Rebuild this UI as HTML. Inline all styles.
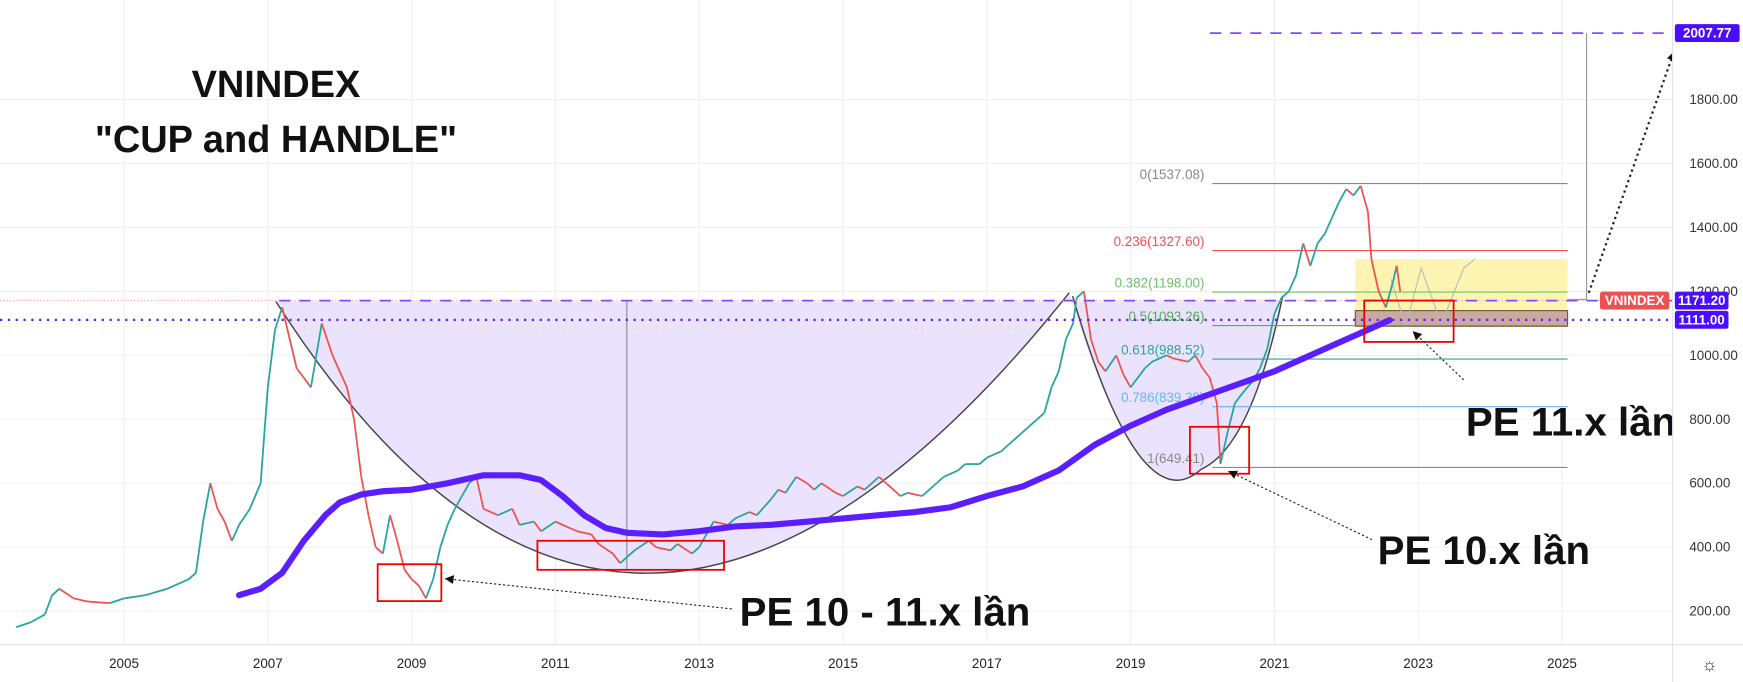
<!DOCTYPE html>
<html><head><meta charset="utf-8"><style>
html,body{margin:0;padding:0;background:#fff;overflow:hidden}
svg{display:block}
text{font-family:"Liberation Sans","DejaVu Sans",sans-serif}
</style></head><body>
<svg id="chart" width="1743" height="682" viewBox="0 0 1560 610.4" preserveAspectRatio="none" xmlns="http://www.w3.org/2000/svg">
<g id="grid"></g>
<g id="cupfill"></g>
<g id="fib"></g>
<g id="candles"></g>
<g id="ma"></g>
<g id="annot"></g>
<g id="axes"></g>
</svg>
<script>
const priceDates=[2003.5,2003.7,2003.9,2004.0,2004.1,2004.3,2004.5,2004.8,2005.0,2005.3,2005.6,2005.9,2006.0,2006.1,2006.2,2006.3,2006.4,2006.5,2006.6,2006.75,2006.9,2007.0,2007.1,2007.2,2007.4,2007.6,2007.75,2007.9,2008.0,2008.1,2008.2,2008.3,2008.4,2008.5,2008.6,2008.7,2008.8,2008.9,2009.0,2009.1,2009.2,2009.3,2009.4,2009.5,2009.6,2009.7,2009.8,2009.9,2010.0,2010.2,2010.4,2010.5,2010.7,2010.8,2011.0,2011.2,2011.3,2011.5,2011.6,2011.8,2011.9,2012.1,2012.3,2012.4,2012.6,2012.7,2012.9,2013.0,2013.2,2013.4,2013.5,2013.7,2013.8,2014.0,2014.1,2014.2,2014.35,2014.5,2014.6,2014.7,2014.9,2015.0,2015.2,2015.3,2015.5,2015.6,2015.8,2015.9,2016.1,2016.3,2016.4,2016.6,2016.7,2016.9,2017.0,2017.2,2017.3,2017.5,2017.6,2017.8,2017.9,2018.0,2018.1,2018.2,2018.25,2018.35,2018.45,2018.55,2018.65,2018.8,2018.9,2019.0,2019.2,2019.3,2019.5,2019.6,2019.8,2019.9,2020.0,2020.1,2020.2,2020.25,2020.35,2020.45,2020.55,2020.7,2020.8,2020.9,2021.0,2021.1,2021.2,2021.3,2021.4,2021.5,2021.6,2021.7,2021.8,2021.9,2022.0,2022.1,2022.2,2022.3,2022.35,2022.45,2022.55,2022.65,2022.7,2022.75];
const priceValues=[150,165,190,250,270,240,230,225,240,250,270,300,320,480,600,520,480,420,470,520,600,900,1080,1150,960,900,1100,1000,950,900,800,620,500,400,380,500,420,330,300,280,240,300,400,470,520,560,600,620,520,500,520,470,480,450,480,460,450,440,410,380,350,390,420,400,390,410,380,400,480,470,490,510,500,550,580,570,620,600,580,600,570,560,590,580,620,600,560,570,560,600,620,640,660,660,680,700,720,760,780,820,900,950,1050,1100,1180,1200,1050,980,950,1000,940,900,960,980,1000,990,980,1000,960,930,850,660,760,850,880,920,960,1020,1130,1180,1200,1250,1350,1280,1350,1380,1430,1480,1520,1500,1530,1450,1300,1200,1150,1230,1280,1200];
const maDates=[2006.6,2006.9,2007.2,2007.5,2007.8,2008.0,2008.3,2008.6,2009.0,2009.5,2010.0,2010.5,2010.8,2011.1,2011.4,2011.7,2012.0,2012.5,2013.0,2013.5,2014.0,2014.5,2015.0,2015.5,2016.0,2016.5,2017.0,2017.5,2018.0,2018.5,2019.0,2019.5,2020.0,2020.5,2021.0,2021.5,2022.0,2022.3,2022.6];
const maValues=[250,270,320,420,500,540,565,575,580,600,625,625,610,560,500,460,445,440,450,465,470,480,490,500,510,525,560,590,640,720,780,830,870,910,950,1000,1050,1080,1110];
const priceTicks=[200,400,600,800,1000,1200,1400,1600,1800];
const yearTicks=[2005,2007,2009,2011,2013,2015,2017,2019,2021,2023,2025];
const fibRatios=["0","0.236","0.382","0.5","0.618","0.786","1"];
const fibValues=[1537.08,1327.60,1198.00,1093.26,988.52,839.39,649.41];
const fibColors=["#888","#f05050","#6cc06c","#4caf50","#26a69a","#64b5f6","#888"];

const NS="http://www.w3.org/2000/svg";
function X(yr){return 111+(yr-2005)*64.35;}
function Y(v){return 547-(v-200)*0.2862;}
function mk(tag,parent,attrs){const e=document.createElementNS(NS,tag);for(const k in attrs)e.setAttribute(k,attrs[k]);parent.appendChild(e);return e;}
const G=id=>document.getElementById(id);

priceTicks.forEach(v=>{const l=mk('line',G('grid'),{x1:0,x2:1497,y1:Y(v),y2:Y(v),stroke:'#f0f0f3','stroke-width':1});

});
yearTicks.forEach(yr=>{const l=mk('line',G('grid'),{x1:X(yr),x2:X(yr),y1:0,y2:577,stroke:'#f0f0f3','stroke-width':1});

});

const cf=mk('path',G('cupfill'),{d:'M240,270 L247,270 Q560,760 957,262 Q1020,470 1075,420 Q1120,400 1148,265 L1148,270 Z',fill:'#ebe3fd',stroke:'none'});


mk('path',G('cupfill'),{d:'M247,270 Q560,760 957,262',fill:'none',stroke:'#444','stroke-width':1.3});
mk('path',G('cupfill'),{d:'M960,265 Q1020,470 1075,420 Q1120,400 1148,265',fill:'none',stroke:'#444','stroke-width':1.3});
mk('line',G('cupfill'),{x1:561,x2:561,y1:270,y2:510,stroke:'#888','stroke-width':1});

mk('rect',G('fib'),{x:1213,y:232,width:190,height:60,fill:'#fdf3a8',opacity:0.9});
mk('rect',G('fib'),{x:1213,y:278,width:190,height:14,fill:'#c9a9a0',stroke:'#6b5a2a','stroke-width':1});
mk('polyline',G('fib'),{points:'1245,250 1258,292 1272,240 1290,290 1310,240 1320,232',fill:'none',stroke:'#bbb','stroke-width':1});

fibValues.forEach((v,i)=>{
 const l=mk('line',G('fib'),{x1:1085,x2:1403,y1:Y(v),y2:Y(v),stroke:fibColors[i],'stroke-width':1});
 
 
 const t=mk('text',G('fib'),{x:1078,y:Y(v)-4,'text-anchor':'end','font-size':12,fill:fibColors[i]});
 t.textContent=fibRatios[i]+'('+v.toFixed(2)+')';
 
 
});

const n=Math.min(priceDates.length,priceValues.length);
for(let i=1;i<n;i++){
 const up=priceValues[i]>=priceValues[i-1];
 const c=up?'#26a69a':'#ef5350';
 const s=mk('line',G('candles'),{x1:X(priceDates[i-1]),y1:Y(priceValues[i-1]),x2:X(priceDates[i]),y2:Y(priceValues[i]),stroke:c,'stroke-width':1.6});
 
 
}

const mp=mk('polyline',G('ma'),{points:maValues.map((v,i)=>X(maDates[i])+','+Y(v)).join(' '),fill:'none',stroke:'#5b1fff','stroke-width':5.5,'stroke-linejoin':'round','stroke-linecap':'round'});



const A=G('annot');
mk('line',A,{x1:0,x2:1497,y1:Y(1171.2),y2:Y(1171.2),stroke:'#f4a0a0','stroke-width':1,'stroke-dasharray':'1 2'});
mk('line',A,{x1:250,x2:1497,y1:Y(1171.2),y2:Y(1171.2),stroke:'#7b4dff','stroke-width':1.6,'stroke-dasharray':'10 8'});
mk('line',A,{x1:0,x2:1497,y1:Y(1111),y2:Y(1111),stroke:'#5b1fff','stroke-width':2,'stroke-dasharray':'2 5'});
mk('line',A,{x1:1083,x2:1497,y1:Y(2007.77),y2:Y(2007.77),stroke:'#7b4dff','stroke-width':1.6,'stroke-dasharray':'10 8'});
mk('polyline',A,{points:'1420,'+Y(2007.77)+' 1420,268 1403,268',fill:'none',stroke:'#999','stroke-width':1});

[[338,505,57,33],[481,484,167,26],[1065,382,53,42],[1221,269,80,37]].forEach(b=>{
 const r=mk('rect',A,{x:b[0],y:b[1],width:b[2],height:b[3],fill:'none',stroke:'#e00','stroke-width':1.6});
 
 
});

const defs=mk('defs',G('chart'),{});
const m=mk('marker',defs,{id:'ah',markerWidth:8,markerHeight:8,refX:7,refY:4,orient:'auto',markerUnits:'userSpaceOnUse'});
mk('path',m,{d:'M0,0 L8,4 L0,8 Z',fill:'#111'});
[[655,545,399,518,1],[1228,483,1100,422,1],[1310,340,1265,297,1],[1422,262,1498,47,2]].forEach(a=>{
 const l=mk('line',A,{x1:a[0],y1:a[1],x2:a[2],y2:a[3],stroke:'#222','stroke-width':a[4],'stroke-dasharray':a[4]>1?'2 3':'2 2','marker-end':'url(#ah)'});
 
 
});

function T(p,x,y,s,txt,name,anchor){const t=mk('text',p,{x:x,y:y,'font-size':s,'font-weight':'bold',fill:'#111','text-anchor':anchor||'start'});t.textContent=txt;

return t;}
T(A,247,87,34,'VNINDEX','title-line-1','middle');
T(A,247,136,34,'"CUP and HANDLE"','title-line-2','middle');
T(A,662,560,36,'PE 10 - 11.x lần','pe-label-2009-2012');
T(A,1233,505,36,'PE 10.x lần','pe-label-2020');
T(A,1312,390,36,'PE 11.x lần','pe-label-2022');

const X_=G('axes');
mk('rect',X_,{x:1497,y:0,width:63,height:611,fill:'#fff'});
mk('rect',X_,{x:0,y:577,width:1560,height:34,fill:'#fff'});
mk('line',X_,{x1:1497,x2:1497,y1:0,y2:611,stroke:'#e0e3eb','stroke-width':1});
mk('line',X_,{x1:0,x2:1560,y1:577,y2:577,stroke:'#e0e3eb','stroke-width':1});
priceTicks.forEach(v=>{const t=mk('text',X_,{x:1512,y:Y(v)+4,'font-size':12,fill:'#333'});t.textContent=v.toFixed(2);

});
yearTicks.forEach(yr=>{const t=mk('text',X_,{x:X(yr),y:598,'font-size':12,fill:'#222','text-anchor':'middle'});t.textContent=yr;

});
function tag(p,x,y,w,bg,txt,name){const g=mk('g',p,{});

mk('rect',g,{x:x,y:y,width:w,height:16,rx:2,fill:bg});
const t=mk('text',g,{x:x+w/2,y:y+12,'font-size':12,'font-weight':'bold',fill:'#fff','text-anchor':'middle'});t.textContent=txt;}
tag(X_,1432,Y(1171.2)-8,62,'#f05050','VNINDEX','symbol-tag');
tag(X_,1499,Y(1171.2)-8,48,'#4a0dff','1171.20','price-tag-1171');
tag(X_,1499,Y(1111)-8,48,'#4a0dff','1111.00','price-tag-1111');
tag(X_,1499,Y(2007.77)-8,58,'#4a0dff','2007.77','price-tag-target');
const gear=mk('text',X_,{x:1530,y:600,'font-size':16,fill:'#333','text-anchor':'middle'});gear.textContent='☼';


</script>
</body></html>
